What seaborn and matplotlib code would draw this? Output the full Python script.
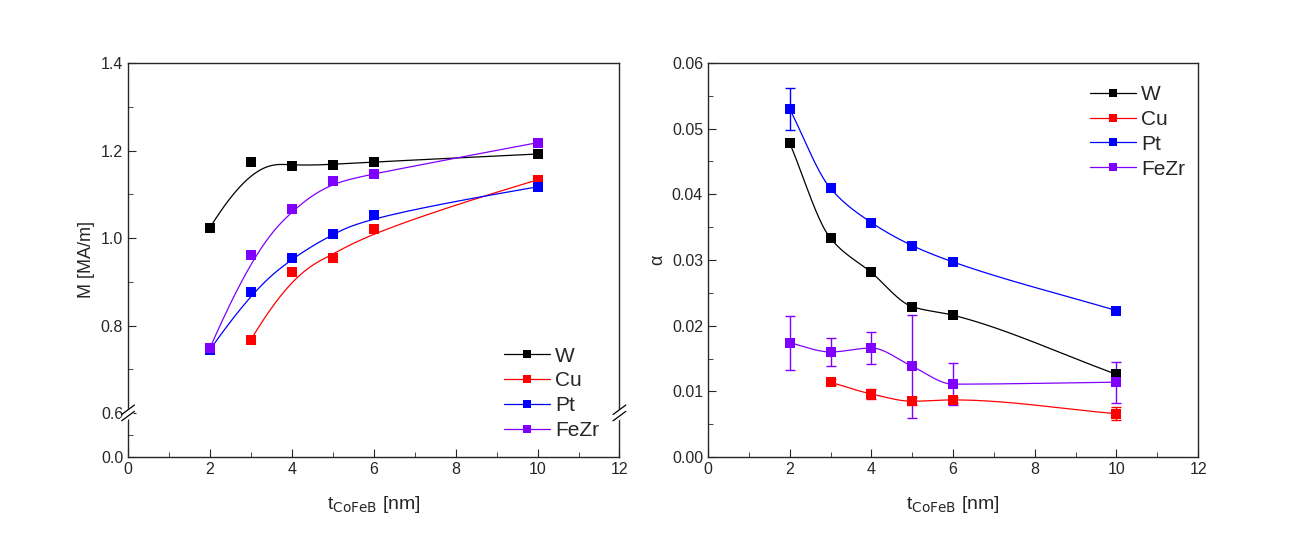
import numpy as np
import pandas as pd
import matplotlib
matplotlib.use("Agg")
import matplotlib.pyplot as plt
from matplotlib.lines import Line2D
from matplotlib.ticker import MultipleLocator, FixedLocator, FormatStrFormatter
import seaborn as sns

# ---- data ----
thick = [2, 3, 4, 5, 6, 10]
thick_cu = [3, 4, 5, 6, 10]

M_W = [1.024, 1.174, 1.165, 1.168, 1.174, 1.192]
M_Cu = [0.768, 0.923, 0.955, 1.021, 1.133]
M_Pt = [0.745, 0.878, 0.955, 1.010, 1.053, 1.117]
M_FeZr = [0.749, 0.962, 1.067, 1.131, 1.147, 1.218]

a_W = [0.0478, 0.0333, 0.0281, 0.0229, 0.0216, 0.0126]
a_Cu = [0.0114, 0.0096, 0.0085, 0.0087, 0.0066]
a_Cu_err = [0.0005, 0.0008, 0.0006, 0.0005, 0.0010]
a_Pt = [0.0530, 0.0409, 0.0357, 0.0322, 0.0297, 0.0223]
a_Pt_err = [0.0032, 0, 0, 0, 0, 0]
a_FeZr = [0.0174, 0.0160, 0.0166, 0.0138, 0.0111, 0.0114]
a_FeZr_err = [0.0041, 0.0022, 0.0025, 0.0079, 0.0032, 0.0031]

names = ["W", "Cu", "Pt", "FeZr"]
colors = {"W": "#000000", "Cu": "#FF0000", "Pt": "#0000FF", "FeZr": "#8000FF"}


def bspline(xs, ys, n=300):
    """clamped cubic B-spline using the points as control points"""
    P = np.column_stack([xs, ys]).astype(float)
    k = 3
    m = len(P)
    inner = np.linspace(0, 1, m - k + 1)[1:-1]
    t = np.concatenate([[0] * (k + 1), inner, [1] * (k + 1)])
    u = np.linspace(0, 1 - 1e-9, n)

    def basis(i, p, u):
        if p == 0:
            return ((t[i] <= u) & (u < t[i + 1])).astype(float)
        a = 0.0 if t[i + p] == t[i] else (u - t[i]) / (t[i + p] - t[i]) * basis(i, p - 1, u)
        b = 0.0 if t[i + p + 1] == t[i + 1] else (t[i + p + 1] - u) / (t[i + p + 1] - t[i + 1]) * basis(i + 1, p - 1, u)
        return a + b

    B = np.column_stack([basis(i, k, u) for i in range(m)])
    C = B @ P
    C[-1] = P[-1]
    return C[:, 0], C[:, 1]


def pchip(xs, ys, n=300):
    """monotone cubic through the points, end slopes = end secants"""
    x = np.asarray(xs, float)
    y = np.asarray(ys, float)
    h = np.diff(x)
    dl = np.diff(y) / h
    d = np.zeros_like(y)
    for k in range(1, len(x) - 1):
        if dl[k - 1] * dl[k] > 0:
            w1 = 2 * h[k] + h[k - 1]
            w2 = h[k] + 2 * h[k - 1]
            d[k] = (w1 + w2) / (w1 / dl[k - 1] + w2 / dl[k])
    d[0], d[-1] = dl[0], dl[-1]
    xx = np.linspace(x[0], x[-1], n)
    idx = np.clip(np.searchsorted(x, xx) - 1, 0, len(x) - 2)
    s = (xx - x[idx]) / h[idx]
    h00 = 2 * s**3 - 3 * s**2 + 1
    h10 = s**3 - 2 * s**2 + s
    h01 = -2 * s**3 + 3 * s**2
    h11 = s**3 - s**2
    yy = h00 * y[idx] + h10 * h[idx] * d[idx] + h01 * y[idx + 1] + h11 * h[idx] * d[idx + 1]
    return xx, yy


sns.set_style("ticks")
plt.rcParams["font.family"] = ["Liberation Sans", "DejaVu Sans"]
plt.rcParams.update({
    "xtick.direction": "in", "ytick.direction": "in",
    "xtick.major.size": 6, "ytick.major.size": 6,
    "xtick.minor.size": 3.5, "ytick.minor.size": 3.5,
    "axes.linewidth": 1.0,
})

fig = plt.figure(figsize=(13, 5.52), dpi=100)
ax1 = fig.add_axes([0.0985, 0.172, 0.378, 0.714])
ax2 = fig.add_axes([0.5446, 0.172, 0.377, 0.714])

# ---- left panel: magnetization ----
left = {"W": (thick, M_W), "Cu": (thick_cu, M_Cu), "Pt": (thick, M_Pt), "FeZr": (thick, M_FeZr)}
for nm in names:
    xs, ys = left[nm]
    cx, cy = bspline(xs, ys)
    sns.lineplot(x=cx, y=cy, ax=ax1, color=colors[nm], lw=0.9, sort=False, estimator=None)
    sns.scatterplot(x=xs, y=ys, ax=ax1, color=colors[nm], marker="s", s=45, linewidth=0, zorder=3)

ax1.set_xlim(0, 12)
ax1.set_ylim(0.5, 1.4)
ax1.yaxis.set_major_locator(FixedLocator([0.5, 0.6, 0.8, 1.0, 1.2, 1.4]))
ax1.set_yticklabels(["0.0", "0.6", "0.8", "1.0", "1.2", "1.4"])
ax1.yaxis.set_minor_locator(FixedLocator([0.55, 0.7, 0.9, 1.1, 1.3]))
ax1.set_ylabel("M [MA/m]", fontsize=13)

# axis break at 0.6
for xa in (0, 1):
    ax1.plot([xa - 0.012, xa + 0.012], [0.09, 0.125], transform=ax1.transAxes, color="white", lw=5, clip_on=False, zorder=5)
    for off in (-0.008, 0.008):
        ax1.plot([xa - 0.013, xa + 0.013], [0.112 + off - 0.012, 0.112 + off + 0.012], transform=ax1.transAxes,
                 color="black", lw=0.9, clip_on=False, zorder=6)

# ---- right panel: damping ----
right = {"W": (thick, a_W, None), "Cu": (thick_cu, a_Cu, a_Cu_err),
         "Pt": (thick, a_Pt, a_Pt_err), "FeZr": (thick, a_FeZr, a_FeZr_err)}
for nm in names:
    xs, ys, err = right[nm]
    cx, cy = pchip(xs, ys)
    sns.lineplot(x=cx, y=cy, ax=ax2, color=colors[nm], lw=0.9, sort=False, estimator=None)
    if err is not None:
        e = np.array(err)
        m = e > 0
        ax2.errorbar(np.array(xs)[m], np.array(ys)[m], yerr=e[m], fmt="none", ecolor=colors[nm],
                     elinewidth=1, capsize=3.5, capthick=1, zorder=2)
    sns.scatterplot(x=xs, y=ys, ax=ax2, color=colors[nm], marker="s", s=45, linewidth=0, zorder=3)

ax2.set_xlim(0, 12)
ax2.set_ylim(0, 0.06)
ax2.yaxis.set_major_locator(MultipleLocator(0.01))
ax2.yaxis.set_minor_locator(MultipleLocator(0.005))
ax2.yaxis.set_major_formatter(FormatStrFormatter("%.2f"))
ax2.set_ylabel("α", fontsize=13)

for ax in (ax1, ax2):
    ax.xaxis.set_major_locator(MultipleLocator(2))
    ax.xaxis.set_minor_locator(MultipleLocator(1))
    ax.tick_params(axis="both", which="both", top=False, right=False, labelsize=11.5)
    ax.set_xlabel(r"t$_\mathrm{CoFeB}$ [nm]", fontsize=14, labelpad=12)
    for sp in ax.spines.values():
        sp.set_visible(True)
        sp.set_linewidth(1.0)
    ax.grid(False)

handles = [Line2D([], [], color=colors[nm], lw=0.9, marker="s", markersize=6, markeredgewidth=0) for nm in names]
leg_kw = dict(frameon=False, fontsize=15, handlelength=2.2, handletextpad=0.25, labelspacing=0.28,
              borderaxespad=0)
ax1.legend(handles, names, loc="lower right", bbox_to_anchor=(0.975, 0.022), **leg_kw)
ax2.legend(handles, names, loc="upper right", bbox_to_anchor=(0.99, 0.965), **leg_kw)

fig.savefig("out.png", dpi=100)
